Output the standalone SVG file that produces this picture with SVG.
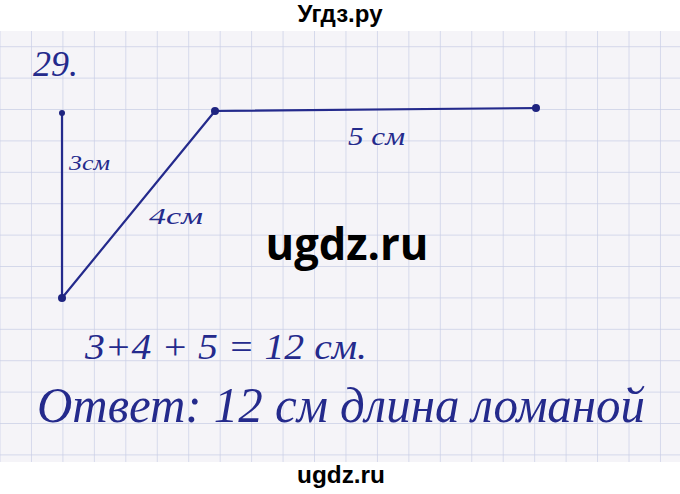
<svg xmlns="http://www.w3.org/2000/svg" width="680" height="494" viewBox="0 0 680 494">
  <defs>
    <style>
      .grid { stroke: #c9cee6; stroke-width: 1.4; fill: none; }
      .ink { fill: #242a8c; font-family: "Liberation Serif", "DejaVu Serif", serif; font-style: italic; }
      .seg { stroke: #242a8c; stroke-width: 2.2; stroke-linecap: round; fill: none; }
      .dot { fill: #1e2480; }
      .wm { fill: #000; font-weight: bold; text-anchor: middle; }
    </style>
    <pattern id="gridPat" x="0.5" y="15.8" width="31.45" height="31.4" patternUnits="userSpaceOnUse">
      <path class="grid" d="M31.45 0 V31.4 M0 31.4 H31.45"/>
    </pattern>
  </defs>

  <rect x="0" y="0" width="680" height="494" fill="#ffffff"/>
  <g id="paper">
    <rect x="0" y="31" width="680" height="431" fill="#f5f4f8"/>
    <rect x="0" y="31" width="680" height="431" fill="url(#gridPat)"/>
  </g>

  <text id="title" class="wm" x="340" y="22" font-family="Liberation Sans, Arial, sans-serif" font-size="24" textLength="85" lengthAdjust="spacingAndGlyphs">Угдз.ру</text>

  <text id="task-number" class="ink" x="33" y="76" font-size="36">29.</text>

  <g id="connectors">
    <line class="seg" x1="62" y1="113" x2="62" y2="298"/>
    <line class="seg" x1="62" y1="298" x2="215" y2="111"/>
    <line class="seg" x1="215" y1="111" x2="536" y2="108"/>
  </g>

  <g id="point-a"><circle class="dot" cx="62" cy="113" r="3"/></g>
  <g id="point-b"><circle class="dot" cx="62" cy="298" r="4"/></g>
  <g id="point-c"><circle class="dot" cx="215" cy="111" r="4"/></g>
  <g id="point-d"><circle class="dot" cx="536" cy="108" r="4"/></g>

  <g id="label-3"><text class="ink" x="69" y="170" font-size="20" textLength="41" lengthAdjust="spacingAndGlyphs">3см</text></g>
  <g id="label-4"><text class="ink" x="149" y="224" font-size="24" textLength="54" lengthAdjust="spacingAndGlyphs">4см</text></g>
  <g id="label-5"><text class="ink" x="348" y="145" font-size="26" textLength="57" lengthAdjust="spacingAndGlyphs">5 см</text></g>

  <text id="watermark" class="wm" x="347" y="260" font-family="Open Sans, Noto Sans, sans-serif" font-size="44" textLength="163" lengthAdjust="spacingAndGlyphs">ugdz.ru</text>

  <text id="equation" class="ink" x="85" y="359" font-size="36" textLength="282" lengthAdjust="spacingAndGlyphs">3+4 + 5 = 12 см.</text>
  <text id="answer" class="ink" x="37" y="422" font-size="50" textLength="608" lengthAdjust="spacingAndGlyphs">Ответ: 12 см длина ломаной</text>

  <text id="footer" class="wm" x="341" y="483" font-family="Liberation Sans, Arial, sans-serif" font-size="23" textLength="88" lengthAdjust="spacingAndGlyphs">ugdz.ru</text>
</svg>
